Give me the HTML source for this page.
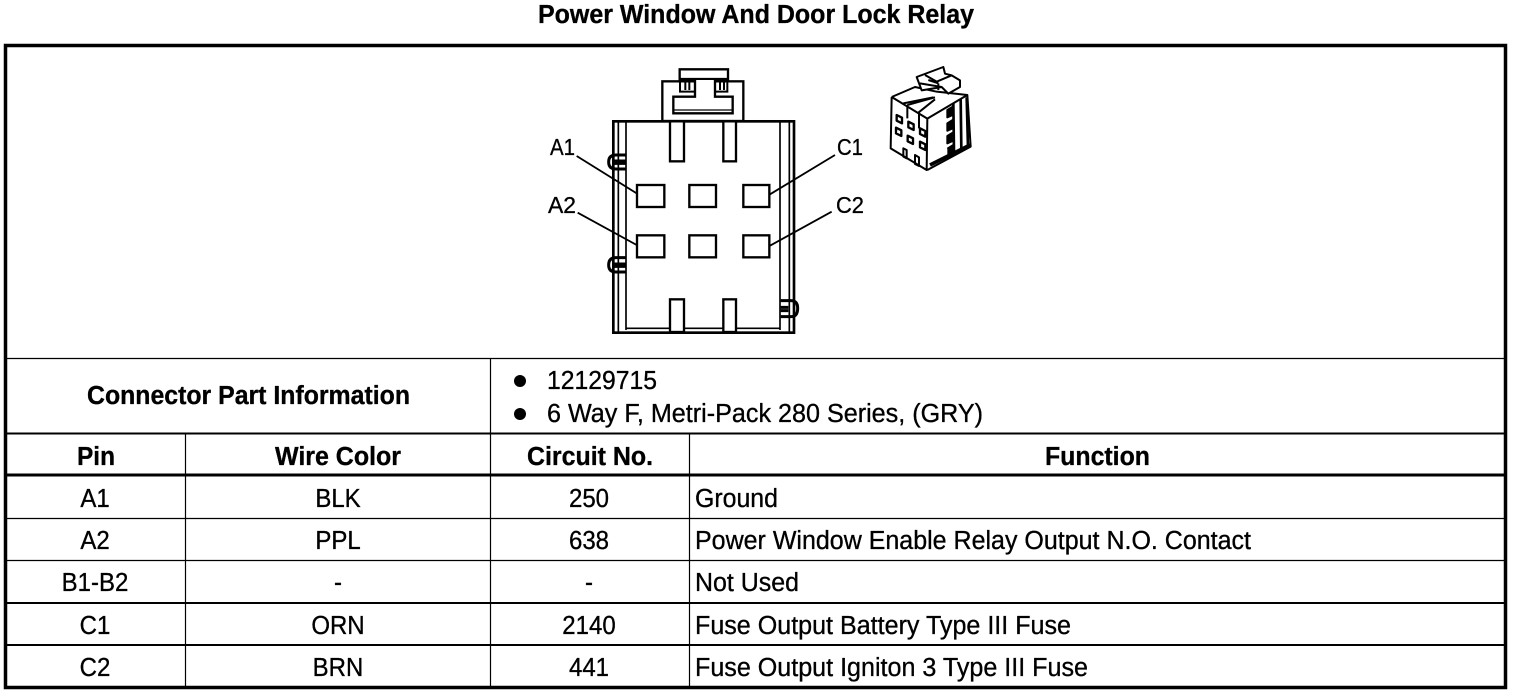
<!DOCTYPE html>
<html><head><meta charset="utf-8"><title>Power Window And Door Lock Relay</title>
<style>html,body{margin:0;padding:0;background:#fff;width:1520px;height:694px;overflow:hidden}svg{display:block}text{font-family:"Liberation Sans",Arial,sans-serif;fill:#000;stroke:#000;stroke-width:.3}</style></head>
<body>
<svg width="1520" height="694" viewBox="0 0 1520 694" xmlns="http://www.w3.org/2000/svg">
<rect width="1520" height="694" fill="#fff"/>
<g stroke="#000" fill="none">
<rect x="5.5" y="45.5" width="1500" height="642" stroke-width="3.5"/>
<path d="M6 358.5H1505M490.5 358.5V475M185.5 434V687M490.5 475V687M689.5 434V687M6 518.5H1505M6 560.5H1505" stroke-width="1.2"/>
<path d="M6 433.5H1505M6 603H1505M6 645H1505" stroke-width="2"/>
<path d="M6 475H1505" stroke-width="3"/>
</g>
<circle cx="520" cy="381" r="6"/><circle cx="520" cy="414" r="6"/>
<g transform="scale(1 1.08)">
<text x="538" y="21.3" font-size="24" font-weight="bold" textLength="436" lengthAdjust="spacingAndGlyphs">Power Window And Door Lock Relay</text>
<g font-size="24" font-weight="bold">
<text x="87" y="374.07" textLength="323" lengthAdjust="spacingAndGlyphs">Connector Part Information</text>
<text x="77" y="430.56" textLength="38" lengthAdjust="spacingAndGlyphs">Pin</text>
<text x="275" y="430.56" textLength="126" lengthAdjust="spacingAndGlyphs">Wire Color</text>
<text x="527" y="430.56" textLength="126" lengthAdjust="spacingAndGlyphs">Circuit No.</text>
<text x="1045" y="430.56" textLength="105" lengthAdjust="spacingAndGlyphs">Function</text>
</g>
<g font-size="24">
<text x="547" y="360.19" textLength="110" lengthAdjust="spacingAndGlyphs">12129715</text>
<text x="547" y="390.74" textLength="436" lengthAdjust="spacingAndGlyphs">6 Way F, Metri-Pack 280 Series, (GRY)</text>
<g text-anchor="middle">
<text x="95" y="469.44">A1</text><text x="95" y="508.33">A2</text><text x="95" y="547.22">B1-B2</text><text x="95" y="587.04">C1</text><text x="95" y="625.93">C2</text>
<text x="338" y="469.44">BLK</text><text x="338" y="508.33">PPL</text><text x="338" y="547.22">-</text><text x="338" y="587.04">ORN</text><text x="338" y="625.93">BRN</text>
<text x="589" y="469.44">250</text><text x="589" y="508.33">638</text><text x="589" y="547.22">-</text><text x="589" y="587.04">2140</text><text x="589" y="625.93">441</text>
</g>
<text x="695" y="469.44" textLength="83" lengthAdjust="spacingAndGlyphs">Ground</text>
<text x="695" y="508.33" textLength="556" lengthAdjust="spacingAndGlyphs">Power Window Enable Relay Output N.O. Contact</text>
<text x="695" y="547.22" textLength="104" lengthAdjust="spacingAndGlyphs">Not Used</text>
<text x="695" y="587.04" textLength="376" lengthAdjust="spacingAndGlyphs">Fuse Output Battery Type III Fuse</text>
<text x="695" y="625.93" textLength="393" lengthAdjust="spacingAndGlyphs">Fuse Output Igniton 3 Type III Fuse</text>
</g>
<g font-size="21.5" style="stroke-width:.55">
<text x="550" y="143.5" textLength="25" lengthAdjust="spacingAndGlyphs">A1</text>
<text x="548" y="197.2" textLength="28" lengthAdjust="spacingAndGlyphs">A2</text>
<text x="837" y="143.5" textLength="26" lengthAdjust="spacingAndGlyphs">C1</text>
<text x="836" y="197.2" textLength="28" lengthAdjust="spacingAndGlyphs">C2</text>
</g>
</g>
<g transform="translate(530 60) scale(.33333)" stroke="#000" fill="none" stroke-width="7">
<rect x="250" y="184" width="542" height="634" stroke-width="8" fill="#fff"/>
<path d="M265 184V818M288 184V810M750 184V810M778 184V818M288 805H750" stroke-width="5"/>
<rect x="397" y="64" width="243" height="119" fill="#fff"/>
<path d="M449 64V28H594V64"/>
<path d="M449 58H594" stroke-width="9"/>
<path d="M495 60V110H430V160H608V110H555V60" fill="#fff"/>
<path d="M430 150H608" stroke-width="4"/>
<path d="M450 64V95H495M555 95H592V64M466 64V90M478 64V90M570 64V90M582 64V90" stroke-width="6"/>
<rect x="420" y="184" width="42" height="120" fill="#fff"/><rect x="580" y="184" width="38" height="120" fill="#fff"/>
<rect x="420" y="718" width="42" height="98" fill="#fff"/><rect x="580" y="718" width="38" height="98" fill="#fff"/>
<g fill="#fff">
<rect x="321" y="375" width="82" height="66"/><rect x="478" y="375" width="80" height="66"/><rect x="640" y="375" width="78" height="66"/>
<rect x="321" y="526" width="82" height="66"/><rect x="478" y="526" width="80" height="66"/><rect x="640" y="526" width="78" height="66"/>
</g>
<path d="M140 288L320 400M143 458L320 555M915 285L720 403M905 455L720 557" stroke-width="5.5"/>
<path d="M288 285H258Q236 285 236 306Q236 327 258 327H288M288 303H258V310H288" stroke-width="9"/>
<path d="M288 593H258Q236 593 236 615Q236 636 258 636H288M288 612H258V619H288" stroke-width="9"/>
<path d="M752 722H782Q803 722 803 745Q803 770 782 770H752M752 742H775M752 752H775" stroke-width="9"/>
</g>
<g transform="translate(870 60) scale(.33333)" stroke="#000" fill="none" stroke-width="6" stroke-linejoin="round">
<path d="M65 111L62 265L170 330L172 176L292 105L302 260L172 330" fill="#fff"/>
<path d="M65 111L135 81L200 95L292 105M65 111L172 176M100 130L190 112M112 135L195 112M145 158L195 118M112 135V175M147 155V205"/>
<path d="M140 51L220 21L225 41L245 46L270 61L270 81L235 101L215 81L155 91ZM165 45L200 65L245 46M205 70V90M175 60L205 70M150 70L215 81" fill="#fff"/>
<path d="M250 130L252 278M272 118L274 268M290 112L294 262" stroke-width="8"/>
<path d="M232 150L248 140V165L232 172ZM232 190L248 180V205L232 212ZM232 228L248 218V243L232 250ZM232 266L248 256V278L232 288" fill="#000"/>
<path d="M180 315L300 255" stroke-width="11"/>
<path d="M80 165L96 173V190L80 182ZM115 185L131 193V210L115 202ZM150 205L166 213V230L150 222ZM78 203L94 211V228L78 220ZM113 227L129 235V252L113 244ZM150 245L166 253V270L150 262Z" stroke-width="7"/>
<path d="M100 265L100 290L110 295V270ZM135 285V312L147 318V292Z"/>
</g>
</svg>
</body></html>
